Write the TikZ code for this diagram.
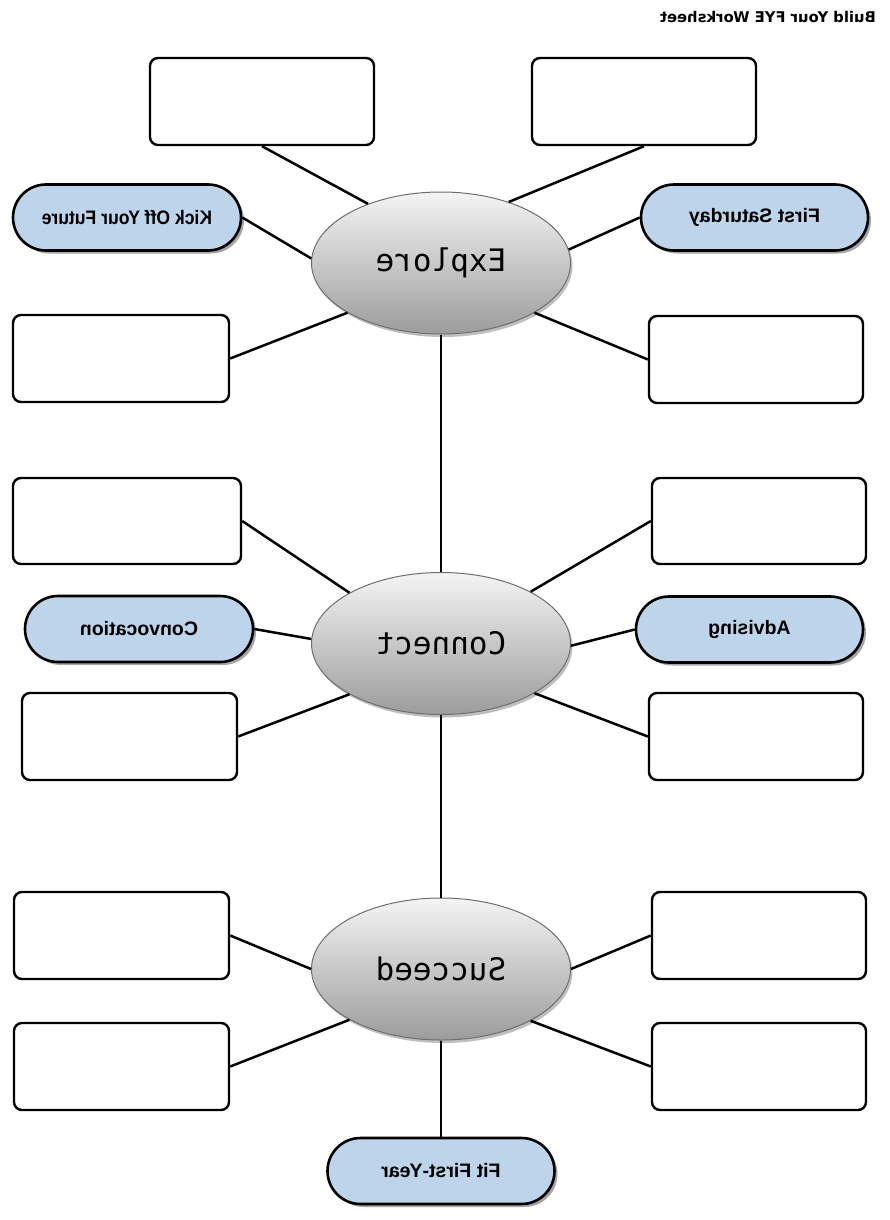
\documentclass[tikz,border=0pt]{standalone}
\usepackage{fontspec}
\usepackage{graphicx}
\usetikzlibrary{shapes.geometric,shapes.misc,shadows}
\newfontfamily\labfont{Liberation Sans}
\newfontfamily\ovalfont{DejaVu Sans Mono}
\newfontfamily\titfont{DejaVu Sans}
\newcommand{\mir}[1]{\scalebox{-1}[1]{#1}}
\newcommand{\mirn}[1]{\scalebox{-0.9}[1]{#1}}
\definecolor{pillblue}{HTML}{BED4EB}
\definecolor{ovaltop}{HTML}{F4F4F4}
\definecolor{ovalbot}{HTML}{9C9C9C}
\definecolor{ovaledge}{HTML}{6E6E6E}
\tikzset{
  wbox/.style={draw=black, line width=2.4pt, rounded corners=8pt, fill=white, inner sep=0pt},
  pill/.style={rounded rectangle, draw=black, line width=2.6pt, fill=pillblue, inner sep=0pt,
    minimum height=66pt, font=\labfont\bfseries\fontsize{19.5}{22}\selectfont,
    drop shadow={shadow xshift=3pt, shadow yshift=-3pt, opacity=0.35, fill=black}},
  oval/.style={ellipse, draw=ovaledge, line width=1pt, top color=ovaltop, bottom color=ovalbot,
    inner sep=0pt, minimum width=259pt, minimum height=142pt,
    font=\ovalfont\fontsize{31}{34}\selectfont,
    drop shadow={shadow xshift=2pt, shadow yshift=-3pt, opacity=0.25, fill=black}},
  conn/.style={line width=2.5pt, black},
  title/.style={font=\titfont\bfseries\fontsize{14.8}{17}\selectfont, inner sep=0pt}
}
\begin{document}
\begin{tikzpicture}[x=1pt, y=-1pt]
\useasboundingbox (0,0) rectangle (890,1220);
\fill[white] (0,0) rectangle (890,1220);

\node[title] (ttl) at (768,17) {\mir{Build Your FYE Worksheet}};

% Explore cluster
\node[oval] (ex) at (441,263) {\mir{Explore}};
\node[wbox, minimum width=224pt, minimum height=87pt] (tl) at (262,101.5) {};
\node[wbox, minimum width=224pt, minimum height=87pt] (tr) at (644,101.5) {};
\node[pill, minimum width=228pt] (kick) at (127,217.5) {\mirn{Kick Off Your Future}};
\node[pill, minimum width=227pt] (fs) at (754.5,217.5) {\mir{First Saturday}};
\node[wbox, minimum width=216pt, minimum height=87pt] (l1) at (121,358.5) {};
\node[wbox, minimum width=214pt, minimum height=87pt] (r1) at (756,359.5) {};

% Connect cluster
\node[oval] (cn) at (441,643.5) {\mir{Connect}};
\node[wbox, minimum width=228pt, minimum height=86pt] (l2) at (127,521) {};
\node[wbox, minimum width=214pt, minimum height=86pt] (r2) at (759,521) {};
\node[pill, minimum width=228pt] (conv) at (139,629) {\mir{Convocation}};
\node[pill, minimum width=227pt] (adv) at (749.5,629.5) {\mir{Advising}};
\node[wbox, minimum width=215pt, minimum height=87pt] (l3) at (129.5,736.5) {};
\node[wbox, minimum width=214pt, minimum height=87pt] (r3) at (756,736.5) {};

% Succeed cluster
\node[oval] (sc) at (441,969) {\mir{Succeed}};
\node[wbox, minimum width=215pt, minimum height=87pt] (l4) at (121.5,935.5) {};
\node[wbox, minimum width=214pt, minimum height=87pt] (r4) at (759,935.5) {};
\node[wbox, minimum width=215pt, minimum height=87pt] (l5) at (121.5,1066.5) {};
\node[wbox, minimum width=214pt, minimum height=87pt] (r5) at (759,1066.5) {};
\node[pill, minimum width=227pt] (fit) at (441,1171) {\mir{Fit First-Year}};

% connectors
\draw[conn] (tl.south) -- (ex.141);
\draw[conn] (tr.south) -- (ex.42);
\draw[conn] (kick.east) -- (ex.178);
\draw[conn] (fs.west) -- (ex.6);
\draw[conn] (l1.east) -- (ex.208);
\draw[conn] (r1.west) -- (ex.332);
\draw[conn] (ex.south) -- (cn.north);

\draw[conn] (l2.east) -- (cn.151);
\draw[conn] (r2.west) -- (cn.30);
\draw[conn] (conv.east) -- (cn.178);
\draw[conn] (adv.west) -- (cn.359);
\draw[conn] (l3.east) -- (cn.209);
\draw[conn] (r3.west) -- (cn.332);
\draw[conn] (cn.south) -- (sc.north);

\draw[conn] (l4.east) -- (sc.180);
\draw[conn] (r4.west) -- (sc.0);
\draw[conn] (l5.east) -- (sc.209);
\draw[conn] (r5.west) -- (sc.330);
\draw[conn] (sc.south) -- (fit.north);
\end{tikzpicture}
\end{document}
